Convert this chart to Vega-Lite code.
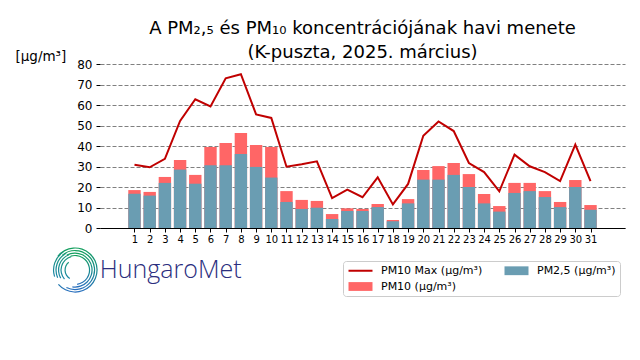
{
  "$schema": "https://vega.github.io/schema/vega-lite/v6.json",
  "autosize": {"type": "none"},
  "padding": {"left": 100, "top": 64, "right": 15, "bottom": 132},
  "width": 525,
  "height": 164,
  "background": "white",
  "config": {
    "view": {"stroke": null},
    "font": "DejaVu Sans",
    "axis": {"labelFont": "DejaVu Sans", "titleFont": "DejaVu Sans", "labelColor": "black", "titleColor": "black"},
    "axisY": {
      "title": "[μg/m³]",
      "titleAngle": 0,
      "titleAlign": "left",
      "titleBaseline": "alphabetic",
      "titleX": -85,
      "titleY": -4,
      "titleFontSize": 13.5,
      "titleFontWeight": "normal",
      "labelOverlap": false,
      "domain": false,
      "tickColor": "black",
      "tickSize": 4,
      "labelFontSize": 12,
      "labelPadding": 4,
      "grid": true,
      "gridColor": "#808080",
      "gridDash": [4, 2],
      "gridWidth": 1
    },
    "legend": {"labelFont": "DejaVu Sans"}
  },
  "title": {
    "text": ["A PM₂,₅ és PM₁₀ koncentrációjának havi menete", "(K-puszta, 2025. március)"],
    "font": "DejaVu Sans",
    "fontSize": 18,
    "fontWeight": "normal",
    "color": "black",
    "anchor": "middle",
    "frame": "group",
    "lineHeight": 24,
    "offset": -13
  },
  "datasets": {
    "pm": [
      {"day": 1, "pm25": 16.7, "pm10": 18.5, "pm10max": 30.9},
      {"day": 2, "pm25": 15.8, "pm10": 17.6, "pm10max": 29.6},
      {"day": 3, "pm25": 22.0, "pm10": 24.9, "pm10max": 33.7},
      {"day": 4, "pm25": 28.5, "pm10": 33.2, "pm10max": 52.2},
      {"day": 5, "pm25": 21.6, "pm10": 25.9, "pm10max": 62.8},
      {"day": 6, "pm25": 30.6, "pm10": 39.5, "pm10max": 59.3},
      {"day": 7, "pm25": 30.6, "pm10": 41.5, "pm10max": 73.0},
      {"day": 8, "pm25": 36.1, "pm10": 46.3, "pm10max": 75.0},
      {"day": 9, "pm25": 29.8, "pm10": 40.5, "pm10max": 55.4},
      {"day": 10, "pm25": 24.6, "pm10": 39.5, "pm10max": 53.7},
      {"day": 11, "pm25": 12.7, "pm10": 18.0, "pm10max": 29.9},
      {"day": 12, "pm25": 9.3, "pm10": 13.7, "pm10max": 31.1},
      {"day": 13, "pm25": 9.9, "pm10": 13.2, "pm10max": 32.5},
      {"day": 14, "pm25": 4.4, "pm10": 6.8, "pm10max": 14.6},
      {"day": 15, "pm25": 8.3, "pm10": 9.6, "pm10max": 18.7},
      {"day": 16, "pm25": 8.3, "pm10": 9.3, "pm10max": 15.0},
      {"day": 17, "pm25": 10.2, "pm10": 11.7, "pm10max": 24.7},
      {"day": 18, "pm25": 3.3, "pm10": 3.9, "pm10max": 11.5},
      {"day": 19, "pm25": 12.0, "pm10": 14.1, "pm10max": 21.5},
      {"day": 20, "pm25": 23.6, "pm10": 28.3, "pm10max": 45.0},
      {"day": 21, "pm25": 23.6, "pm10": 30.2, "pm10max": 52.0},
      {"day": 22, "pm25": 25.9, "pm10": 31.7, "pm10max": 47.3},
      {"day": 23, "pm25": 20.0, "pm10": 26.3, "pm10max": 31.7},
      {"day": 24, "pm25": 12.0, "pm10": 16.6, "pm10max": 27.3},
      {"day": 25, "pm25": 8.0, "pm10": 10.7, "pm10max": 17.9},
      {"day": 26, "pm25": 17.1, "pm10": 22.0, "pm10max": 35.8},
      {"day": 27, "pm25": 18.0, "pm10": 22.0, "pm10max": 30.1},
      {"day": 28, "pm25": 15.1, "pm10": 18.0, "pm10max": 27.3},
      {"day": 29, "pm25": 10.2, "pm10": 12.7, "pm10max": 22.9},
      {"day": 30, "pm25": 20.0, "pm10": 23.4, "pm10max": 40.7},
      {"day": 31, "pm25": 8.9, "pm10": 11.2, "pm10max": 22.9}
    ],
    "logo": [{"name": "HungaroMet"}]
  },
  "resolve": {"scale": {"x": "independent", "y": "independent"}, "axis": {"x": "independent", "y": "independent"}},
  "layer": [
    {
      "data": {"name": "pm"},
      "encoding": {
        "x": {
          "field": "day", "type": "quantitative",
          "scale": {"domain": [-0.94, 32.94], "nice": false, "zero": false},
          "axis": {
            "title": null,
            "values": [1,2,3,4,5,6,7,8,9,10,11,12,13,14,15,16,17,18,19,20,21,22,23,24,25,26,27,28,29,30,31],
            "format": "d",
            "grid": false,
            "domainColor": "black",
            "domainWidth": 1,
            "tickColor": "black",
            "tickSize": 4,
            "labelFontSize": 10,
            "labelPadding": 2,
            "labelFlush": false,
            "labelOverlap": false
          }
        }
      },
      "layer": [
        {
          "mark": {"type": "bar", "width": 12.4},
          "encoding": {
            "y": {
              "field": "pm10", "type": "quantitative",
              "scale": {"domain": [0, 80], "nice": false},
              "axis": {"title": "[μg/m³]", "values": [0,10,20,30,40,50,60,70,80]}
            },
            "color": {
              "datum": "PM10 (μg/m³)",
              "type": "nominal",
              "scale": {
                "domain": ["PM10 Max (μg/m³)", "PM2,5 (μg/m³)", "PM10 (μg/m³)"],
                "range": ["#c00000", "#6a9db2", "#ff6666"]
              },
              "legend": {
                "title": null,
                "orient": "none",
                "legendX": 243,
                "legendY": 197,
                "direction": "horizontal",
                "columns": 2,
                "columnPadding": 20,
                "rowPadding": 4,
                "padding": 4,
                "strokeColor": "#cccccc",
                "fillColor": "white",
                "cornerRadius": 3,
                "labelFontSize": 11,
                "labelColor": "black",
                "labelOffset": 15,
                "symbolOffset": 8,
                "symbolSize": 64,
                "encode": {
                  "symbols": {
                    "update": {
                      "shape": {"signal": "indexof(datum.value, 'Max') >= 0 ? 'M-3,-0.25H3V0.25H-3Z' : 'M-3,-1.1H3V1.1H-3Z'"},
                      "fill": {"signal": "indexof(datum.value, 'Max') >= 0 ? '#c00000' : indexof(datum.value, '2,5') >= 0 ? '#72bcd4' : '#ff6666'"},
                      "stroke": {"value": "transparent"},
                      "strokeWidth": {"value": 0},
                      "size": {"value": 64},
                      "opacity": {"value": 1},
                      "fillOpacity": {"value": 1}
                    }
                  }
                }
              }
            }
          }
        },
        {
          "mark": {"type": "bar", "width": 12.4},
          "encoding": {
            "y": {"field": "pm25", "type": "quantitative", "axis": {"title": "[μg/m³]", "values": [0,10,20,30,40,50,60,70,80]}},
            "color": {"datum": "PM2,5 (μg/m³)", "type": "nominal"}
          }
        },
        {
          "mark": {"type": "line", "strokeWidth": 2},
          "encoding": {
            "y": {"field": "pm10max", "type": "quantitative", "axis": {"title": "[μg/m³]", "values": [0,10,20,30,40,50,60,70,80]}},
            "color": {"datum": "PM10 Max (μg/m³)", "type": "nominal"}
          }
        }
      ]
    },
    {
      "data": {"name": "logo"},
      "layer": [
        {
          "encoding": {
            "x": {"datum": -2.55, "type": "quantitative", "scale": {"domain": [-0.94, 32.94], "nice": false, "zero": false}, "axis": null},
            "y": {"datum": -20.5, "type": "quantitative", "scale": {"domain": [0, 80], "nice": false, "zero": false}, "axis": null}
          },
          "layer": [
            {"mark": {"type": "arc", "fill": {"gradient": "linear", "x1": 0, "y1": 0, "x2": 0, "y2": 1, "stops": [{"offset": 0, "color": "#14a05c"}, {"offset": 0.5, "color": "#168a8c"}, {"offset": 1, "color": "#2a6fc0"}]}},
             "encoding": {"theta": {"value": -0.9}, "theta2": {"value": 4.0}, "radius": {"value": 22.6}, "radius2": {"value": 21.4}}},
            {"mark": {"type": "arc", "fill": {"gradient": "linear", "x1": 0, "y1": 0, "x2": 0, "y2": 1, "stops": [{"offset": 0, "color": "#14a05c"}, {"offset": 0.5, "color": "#168a8c"}, {"offset": 1, "color": "#2a6fc0"}]}},
             "encoding": {"theta": {"value": -0.7}, "theta2": {"value": 3.6}, "radius": {"value": 20.1}, "radius2": {"value": 18.9}}},
            {"mark": {"type": "arc", "fill": {"gradient": "linear", "x1": 0, "y1": 0, "x2": 0, "y2": 1, "stops": [{"offset": 0, "color": "#14a05c"}, {"offset": 0.5, "color": "#168a8c"}, {"offset": 1, "color": "#2a6fc0"}]}},
             "encoding": {"theta": {"value": -0.5}, "theta2": {"value": 3.3}, "radius": {"value": 17.6}, "radius2": {"value": 16.4}}},
            {"mark": {"type": "arc", "fill": {"gradient": "linear", "x1": 0, "y1": 0, "x2": 0, "y2": 1, "stops": [{"offset": 0, "color": "#14a05c"}, {"offset": 0.5, "color": "#168a8c"}, {"offset": 1, "color": "#2a6fc0"}]}},
             "encoding": {"theta": {"value": -0.3}, "theta2": {"value": 3.0}, "radius": {"value": 15.1}, "radius2": {"value": 13.9}}},
            {"mark": {"type": "arc", "fill": {"gradient": "linear", "x1": 0, "y1": 0, "x2": 0, "y2": 1, "stops": [{"offset": 0, "color": "#1a9a7a"}, {"offset": 1, "color": "#1a84a8"}]}},
             "encoding": {"theta": {"value": 4.4}, "theta2": {"value": 5.7}, "radius": {"value": 22.1}, "radius2": {"value": 20.9}}},
            {"mark": {"type": "arc", "fill": {"gradient": "linear", "x1": 0, "y1": 0, "x2": 0, "y2": 1, "stops": [{"offset": 0, "color": "#1a9a7a"}, {"offset": 1, "color": "#1a84a8"}]}},
             "encoding": {"theta": {"value": 4.3}, "theta2": {"value": 5.8}, "radius": {"value": 19.6}, "radius2": {"value": 18.4}}},
            {"mark": {"type": "arc", "fill": {"gradient": "linear", "x1": 0, "y1": 0, "x2": 0, "y2": 1, "stops": [{"offset": 0, "color": "#1a9a7a"}, {"offset": 1, "color": "#1a84a8"}]}},
             "encoding": {"theta": {"value": 4.2}, "theta2": {"value": 5.9}, "radius": {"value": 17.1}, "radius2": {"value": 15.9}}},
            {"mark": {"type": "arc", "fill": {"gradient": "linear", "x1": 0, "y1": 0, "x2": 0, "y2": 1, "stops": [{"offset": 0, "color": "#1a9a7a"}, {"offset": 1, "color": "#1a84a8"}]}},
             "encoding": {"theta": {"value": 4.0}, "theta2": {"value": 6.0}, "radius": {"value": 14.6}, "radius2": {"value": 13.4}}},
            {"mark": {"type": "arc", "fill": {"gradient": "linear", "x1": 0, "y1": 0, "x2": 0, "y2": 1, "stops": [{"offset": 0, "color": "#1a9a7a"}, {"offset": 1, "color": "#1a84a8"}]}},
             "encoding": {"theta": {"value": 3.7}, "theta2": {"value": 5.6}, "radius": {"value": 10.6}, "radius2": {"value": 9.4}}}
          ]
        },
        {
          "mark": {"type": "text", "font": "Open Sans", "fontWeight": 300, "fontSize": 25, "align": "left", "baseline": "alphabetic", "color": "#2b2e7e"},
          "encoding": {
            "x": {"datum": -0.95, "type": "quantitative", "axis": null},
            "y": {"datum": -24.4, "type": "quantitative", "axis": null},
            "text": {"field": "name"}
          }
        }
      ]
    }
  ]
}
